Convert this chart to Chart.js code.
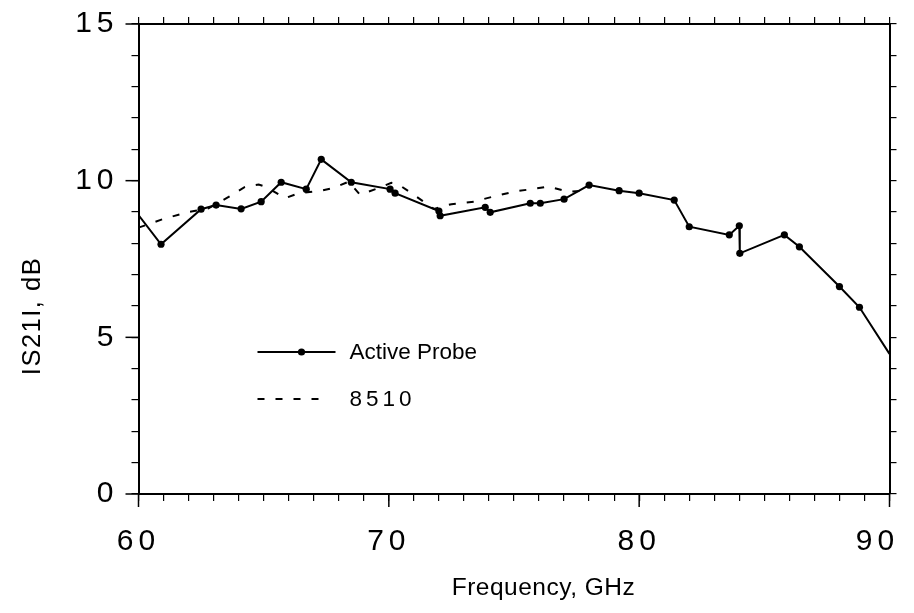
<!DOCTYPE html>
<html>
<head>
<meta charset="utf-8">
<script src="https://cdn.jsdelivr.net/npm/chart.js@4.4.1/dist/chart.umd.min.js"></script>
<style>
    html, body { margin: 0; padding: 0; background: #fff; }
</style>
</head>
<body>
<canvas id="grafica" width="914" height="613"></canvas>
<script>
/* -----------------------------
   DATOS
----------------------------- */
// Active Probe: frecuencia (GHz) y |S21| (dB)
const probeFreq = [60.0, 60.9, 62.5, 63.1, 64.1, 64.9, 65.7, 66.7, 67.3, 68.5, 70.05, 70.25, 72.0, 72.05,
    73.85, 74.05, 75.65, 76.05, 77.0, 78.0, 79.2, 80.0, 81.4, 82.0, 83.6, 84.0, 84.02, 85.8, 86.4, 88.0, 88.8, 90.0];
const probeDb = [8.9, 7.97, 9.09, 9.22, 9.10, 9.33, 9.95, 9.73, 10.68, 9.95, 9.73, 9.60, 9.03, 8.88,
    9.15, 8.99, 9.28, 9.28, 9.41, 9.86, 9.68, 9.60, 9.38, 8.53, 8.27, 8.56, 7.68, 8.27, 7.89, 6.62, 5.96, 4.47];

// 8510 (referencia)
const refFreq = [60.0, 61.0, 62.0, 62.8, 63.6, 64.25, 64.8, 65.1, 65.85, 66.4, 67.3, 67.8, 68.4, 68.85,
    69.5, 70.1, 70.35, 70.9, 71.8, 72.5, 73.4, 74.2, 75.0, 75.7, 76.4, 77.2, 77.7];
const refDb = [8.5, 8.78, 9.0, 9.12, 9.48, 9.8, 9.88, 9.8, 9.44, 9.6, 9.68, 9.77, 9.97, 9.55,
    9.74, 9.93, 9.9, 9.6, 9.1, 9.25, 9.33, 9.5, 9.65, 9.73, 9.81, 9.64, 9.68];

const seriesNames = ["Active Probe", "8510"];
const xTicks = [60, 70, 80, 90];
const yTicks = [0, 5, 10, 15];
const xTitle = "Frequency, GHz";
const yTitle = "IS21I, dB";

const FONT = "'Liberation Sans', Arial, Helvetica, sans-serif";
const toPoints = (xs, ys) => xs.map((x, i) => ({ x: x, y: ys[i] }));

/* -----------------------------
   PLUGIN: marcas mayores, espaciado de digitos, titulos, leyenda
----------------------------- */
const estiloFigura = {
    id: "estiloFigura",
    afterLayout(chart) {
        ["x", "y"].forEach(id => {
            const s = chart.scales[id];
            if (s && !s._espaciado) {
                const orig = s.drawLabels;
                s.drawLabels = function (area) {
                    const ctx = this.ctx;
                    if (this.id === "x") {
                        // el "90" queda dentro del marco, como en la figura
                        const items = this.getLabelItems(area);
                        const ult = items[items.length - 1];
                        if (ult && !ult._movido) {
                            ult.options.translation[0] -= 12;
                            ult._movido = true;
                        }
                    }
                    ctx.save();
                    ctx.letterSpacing = "5px";
                    orig.call(this, area);
                    ctx.restore();
                };
                s._espaciado = true;
            }
        });
    },
    afterDraw(chart) {
        const ctx = chart.ctx;
        const a = chart.chartArea;
        const sx = chart.scales.x;
        const sy = chart.scales.y;

        ctx.save();
        ctx.strokeStyle = "#000";
        ctx.lineWidth = 1.5;
        // marcas mayores mas largas
        xTicks.forEach(v => {
            const px = sx.getPixelForValue(v);
            ctx.beginPath();
            ctx.moveTo(px, a.bottom);
            ctx.lineTo(px, a.bottom + 13);
            ctx.stroke();
        });
        yTicks.forEach(v => {
            const py = sy.getPixelForValue(v);
            ctx.beginPath();
            ctx.moveTo(a.left, py);
            ctx.lineTo(a.left - 13, py);
            ctx.stroke();
        });

        // titulos de ejes
        ctx.fillStyle = "#000";
        ctx.textAlign = "center";
        ctx.textBaseline = "alphabetic";
        ctx.font = "24.5px " + FONT;
        ctx.letterSpacing = "0.5px";
        ctx.fillText(xTitle, a.left + 405, 595);
        ctx.save();
        ctx.translate(40, a.top + 292);
        ctx.rotate(-Math.PI / 2);
        ctx.font = "25.5px " + FONT;
        ctx.letterSpacing = "1.5px";
        ctx.fillText(yTitle, 0, 0);
        ctx.restore();

        // leyenda dentro del area
        const ds = chart.data.datasets;
        const lx = a.left + 119;
        const filas = [a.top + 328, a.top + 375];
        ds.forEach((d, i) => {
            const y = filas[i];
            ctx.beginPath();
            ctx.setLineDash(d.borderDash || []);
            ctx.lineWidth = d.borderWidth;
            ctx.strokeStyle = d.borderColor;
            ctx.moveTo(lx, y);
            ctx.lineTo(lx + (d.borderDash ? 64 : 78), y);
            ctx.stroke();
            ctx.setLineDash([]);
            if (i === 0) {
                ctx.beginPath();
                ctx.fillStyle = "#000";
                ctx.arc(lx + 44, y, 3.6, 0, Math.PI * 2);
                ctx.fill();
            }
            ctx.fillStyle = "#000";
            ctx.font = "22.5px " + FONT;
            ctx.textBaseline = "middle";
            ctx.textAlign = "left";
            ctx.letterSpacing = i === 1 ? "4px" : "0px";
            ctx.fillText(d.label, lx + 92, y + 1);
        });
        ctx.restore();
    }
};

/* -----------------------------
   GRAFICA
----------------------------- */
const labelSolo = (lista) => (v) => lista.includes(v) ? String(v) : "";

const ejeMarcas = {
    drawOnChartArea: false,
    drawTicks: true,
    tickLength: 7,
    color: "#000",
    lineWidth: 1.2
};
const borde = { display: true, color: "#000", width: 2 };
const sinRelleno = (s) => {
    s.paddingLeft = 0; s.paddingRight = 0; s.paddingTop = 0; s.paddingBottom = 0;
};

new Chart(document.getElementById("grafica"), {
    type: "line",
    data: {
        datasets: [
            {
                label: seriesNames[0],
                data: toPoints(probeFreq, probeDb),
                borderColor: "#000",
                backgroundColor: "#000",
                borderWidth: 2,
                pointRadius: (c) => (c.dataIndex === 0 || c.dataIndex === probeFreq.length - 1) ? 0 : 3.6,
                pointBackgroundColor: "#000",
                pointBorderWidth: 0,
                tension: 0,
                fill: false
            },
            {
                label: seriesNames[1],
                data: toPoints(refFreq, refDb),
                borderColor: "#000",
                borderWidth: 2,
                borderDash: [7, 11],
                pointRadius: 0,
                tension: 0,
                fill: false
            }
        ]
    },
    options: {
        responsive: false,
        animation: false,
        devicePixelRatio: 1,
        layout: { padding: { top: 17, right: 17.5, left: 0, bottom: 0 } },
        plugins: {
            legend: { display: false },
            tooltip: { enabled: false }
        },
        scales: {
            x: {
                type: "linear",
                position: "bottom",
                min: 60,
                max: 90,
                ticks: {
                    stepSize: 1,
                    autoSkip: false,
                    maxRotation: 0,
                    padding: 23,
                    color: "#000",
                    font: { family: FONT, size: 30 },
                    callback: labelSolo(xTicks)
                },
                grid: ejeMarcas,
                border: borde,
                afterFit: (s) => { s.height = 119; sinRelleno(s); }
            },
            x2: {
                type: "linear",
                position: "top",
                min: 60,
                max: 90,
                ticks: { display: false, stepSize: 1, autoSkip: false },
                grid: ejeMarcas,
                border: borde,
                afterFit: sinRelleno
            },
            y: {
                type: "linear",
                position: "left",
                min: 0,
                max: 15,
                ticks: {
                    stepSize: 1,
                    autoSkip: false,
                    padding: 13,
                    color: "#000",
                    font: { family: FONT, size: 30 },
                    callback: labelSolo(yTicks)
                },
                grid: ejeMarcas,
                border: borde,
                afterFit: (s) => { s.width = 138.5; sinRelleno(s); }
            },
            y2: {
                type: "linear",
                position: "right",
                min: 0,
                max: 15,
                ticks: { display: false, stepSize: 1, autoSkip: false },
                grid: ejeMarcas,
                border: borde,
                afterFit: sinRelleno
            }
        }
    },
    plugins: [estiloFigura]
});
</script>
</body>
</html>
